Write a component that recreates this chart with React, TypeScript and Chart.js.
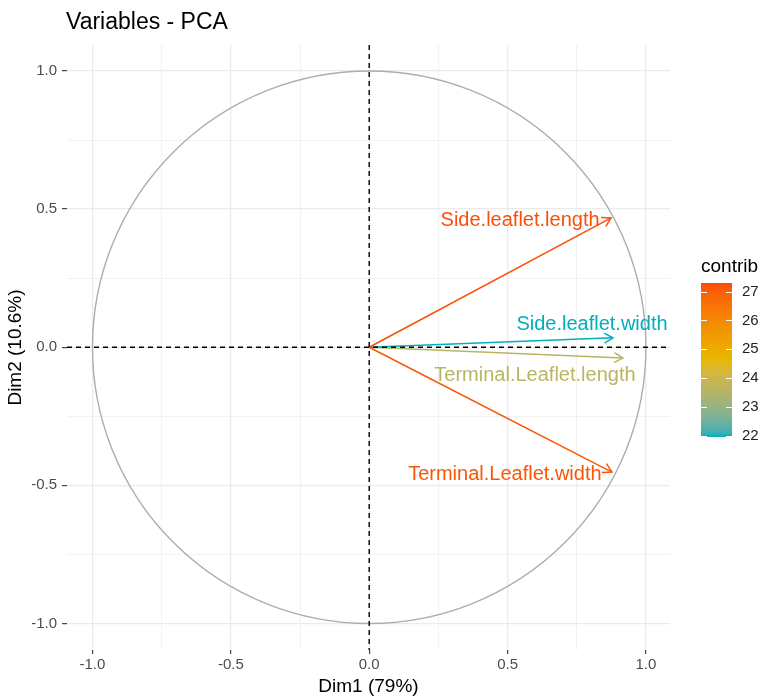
import React, { useEffect, useRef } from "react";
import { Chart, registerables } from "chart.js";
Chart.register(...registerables);

// ---------- data ----------
const variables = [
  "Side.leaflet.length",
  "Side.leaflet.width",
  "Terminal.Leaflet.length",
  "Terminal.Leaflet.width",
];
const dim1 = [0.874, 0.881, 0.917, 0.877];
const dim2 = [0.468, 0.034, -0.039, -0.452];
const contrib = [27.3, 21.95, 23.6, 27.15];
const majorTicks = [-1, -0.5, 0, 0.5, 1];
const minorTicks = [-0.75, -0.25, 0.25, 0.75];
const legendTicks = [22, 23, 24, 25, 26, 27];
const gradientColors = ["#00AFBB", "#E7B800", "#FC4E07"];
const titleText = "Variables - PCA";
const xTitle = "Dim1 (79%)";
const yTitle = "Dim2 (10.6%)";
const legendTitle = "contrib";

// ---------- styling / layout ----------
const FONT = "'Liberation Sans', Arial, Helvetica, sans-serif";
const labelNudge = [
  [-91, 8],
  [-21, -8],
  [-88, 23],
  [-107, 8],
];

// ---------- Lab colour interpolation ----------
function hexToRgb(h: string) {
  return [1, 3, 5].map((i) => parseInt(h.slice(i, i + 2), 16));
}
function toLin(c: number) {
  c /= 255;
  return c <= 0.04045 ? c / 12.92 : Math.pow((c + 0.055) / 1.055, 2.4);
}
function fromLin(c: number) {
  const v = c <= 0.0031308 ? 12.92 * c : 1.055 * Math.pow(c, 1 / 2.4) - 0.055;
  return Math.round(Math.max(0, Math.min(1, v)) * 255);
}
const Xn = 0.95047, Yn = 1, Zn = 1.08883;
const fL = (t: number) => (t > 0.008856 ? Math.cbrt(t) : 7.787 * t + 16 / 116);
const fLinv = (t: number) => (t > 0.206893 ? t * t * t : (t - 16 / 116) / 7.787);
function rgbToLab(rgb: number[]) {
  const R = toLin(rgb[0]), G = toLin(rgb[1]), B = toLin(rgb[2]);
  const X = 0.4124 * R + 0.3576 * G + 0.1805 * B;
  const Y = 0.2126 * R + 0.7152 * G + 0.0722 * B;
  const Z = 0.0193 * R + 0.1192 * G + 0.9505 * B;
  const fx = fL(X / Xn), fy = fL(Y / Yn), fz = fL(Z / Zn);
  return [116 * fy - 16, 500 * (fx - fy), 200 * (fy - fz)];
}
function labToRgb(lab: number[]) {
  const fy = (lab[0] + 16) / 116, fx = fy + lab[1] / 500, fz = fy - lab[2] / 200;
  const X = Xn * fLinv(fx), Y = Yn * fLinv(fy), Z = Zn * fLinv(fz);
  const R = 3.2406 * X - 1.5372 * Y - 0.4986 * Z;
  const G = -0.9689 * X + 1.8758 * Y + 0.0415 * Z;
  const B = 0.0557 * X - 0.204 * Y + 1.057 * Z;
  return [fromLin(R), fromLin(G), fromLin(B)];
}
const labStops = gradientColors.map((c) => rgbToLab(hexToRgb(c)));
function ramp(t: number) {
  t = Math.max(0, Math.min(1, t));
  const n = labStops.length - 1;
  const seg = Math.min(n - 1, Math.floor(t * n));
  const u = t * n - seg;
  const a = labStops[seg], b = labStops[seg + 1];
  const lab = [0, 1, 2].map((i) => a[i] + (b[i] - a[i]) * u);
  const rgb = labToRgb(lab);
  return `rgb(${rgb[0]},${rgb[1]},${rgb[2]})`;
}
const cMin = Math.min(...contrib);
const cMax = Math.max(...contrib);
const colorFor = (v: number) => ramp((v - cMin) / (cMax - cMin));
const varColors = contrib.map(colorFor);

const allTicks = [...majorTicks, ...minorTicks].sort((a, b) => a - b);
const isMajor = (v: number) => majorTicks.some((t) => Math.abs(t - v) < 1e-9);

function makeScale(min: number, max: number, title: string, isX: boolean) {
  return {
    type: "linear" as const,
    min,
    max,
    afterBuildTicks: (s: any) => {
      s.ticks = allTicks.map((v) => ({ value: v }));
    },
    afterFit: (s: any) => {
      if (isX) s.height = 48;
      else s.width = 67;
    },
    border: { display: false },
    grid: {
      color: "#EBEBEB",
      lineWidth: (ctx: any) => (ctx.tick && isMajor(ctx.tick.value) ? 1.3 : 0.65),
      drawTicks: true,
      tickLength: isX ? 4 : 5,
      tickWidth: 1.1,
      tickColor: (ctx: any) =>
        ctx.tick && isMajor(ctx.tick.value) ? "#333333" : "rgba(0,0,0,0)",
    },
    ticks: {
      autoSkip: false,
      maxRotation: 0,
      padding: isX ? 2 : 5,
      color: "#4D4D4D",
      font: { family: FONT, size: 15 },
      callback: (v: any) => (isMajor(Number(v)) ? Number(v).toFixed(1) : ""),
    },
    title: {
      display: true,
      text: title,
      color: "#000000",
      font: { family: FONT, size: 19 },
      padding: isX ? { top: 0, bottom: 0 } : { top: 4, bottom: 0 },
    },
  };
}

const pcaPlugin = {
  id: "pcaPlugin",
  beforeDatasetsDraw(chart: any) {
    const { ctx, chartArea, scales } = chart;
    const x = scales.x, y = scales.y;
    const cx = x.getPixelForValue(0), cy = y.getPixelForValue(0);
    const rx = x.getPixelForValue(1) - cx;
    const ry = cy - y.getPixelForValue(1);
    ctx.save();
    ctx.beginPath();
    ctx.rect(chartArea.left, chartArea.top, chartArea.width, chartArea.height);
    ctx.clip();
    ctx.strokeStyle = "#ADADAD";
    ctx.lineWidth = 1.4;
    ctx.beginPath();
    ctx.ellipse(cx, cy, rx, ry, 0, 0, Math.PI * 2);
    ctx.stroke();
    ctx.restore();
  },
  afterDatasetsDraw(chart: any) {
    const { ctx, chartArea, scales } = chart;
    const x = scales.x, y = scales.y;
    const ox = x.getPixelForValue(0), oy = y.getPixelForValue(0);
    ctx.save();
    // arrow heads
    variables.forEach((_, i) => {
      const tx = x.getPixelForValue(dim1[i]);
      const ty = y.getPixelForValue(dim2[i]);
      const ang = Math.atan2(ty - oy, tx - ox);
      const L = 10, A = Math.PI / 6;
      ctx.strokeStyle = varColors[i];
      ctx.lineWidth = 1.5;
      ctx.beginPath();
      ctx.moveTo(tx - L * Math.cos(ang - A), ty - L * Math.sin(ang - A));
      ctx.lineTo(tx, ty);
      ctx.lineTo(tx - L * Math.cos(ang + A), ty - L * Math.sin(ang + A));
      ctx.stroke();
    });
    // dashed zero lines
    ctx.strokeStyle = "#000000";
    ctx.lineWidth = 1.4;
    ctx.setLineDash([5, 4]);
    ctx.beginPath();
    ctx.moveTo(chartArea.left, oy);
    ctx.lineTo(chartArea.right, oy);
    ctx.moveTo(ox, chartArea.top);
    ctx.lineTo(ox, chartArea.bottom);
    ctx.stroke();
    ctx.setLineDash([]);
    // labels
    ctx.font = `20px ${FONT}`;
    ctx.textAlign = "center";
    ctx.textBaseline = "alphabetic";
    variables.forEach((name, i) => {
      const tx = x.getPixelForValue(dim1[i]);
      const ty = y.getPixelForValue(dim2[i]);
      ctx.fillStyle = varColors[i];
      ctx.fillText(name, tx + labelNudge[i][0], ty + labelNudge[i][1]);
    });
    ctx.restore();
  },
  afterDraw(chart: any) {
    const { ctx, chartArea } = chart;
    ctx.save();
    // title
    ctx.fillStyle = "#000000";
    ctx.font = `23px ${FONT}`;
    ctx.textAlign = "left";
    ctx.textBaseline = "alphabetic";
    ctx.fillText(titleText, chartArea.left - 1, 29);
    // legend
    const bx = chartArea.right + 31, bw = 31, top = 283, bottom = 437;
    const vy = (v: number) => bottom - ((v - cMin) / (cMax - cMin)) * (bottom - top);
    ctx.font = `19px ${FONT}`;
    ctx.fillText(legendTitle, bx, 272);
    const grad = ctx.createLinearGradient(0, bottom, 0, top);
    for (let k = 0; k <= 40; k++) grad.addColorStop(k / 40, ramp(k / 40));
    ctx.fillStyle = grad;
    ctx.fillRect(bx, top, bw, bottom - top);
    ctx.strokeStyle = "#FFFFFF";
    ctx.lineWidth = 1;
    ctx.font = `15px ${FONT}`;
    ctx.textBaseline = "middle";
    legendTicks.forEach((t) => {
      const py = Math.round(vy(t)) + 0.5;
      ctx.beginPath();
      ctx.moveTo(bx, py);
      ctx.lineTo(bx + 6, py);
      ctx.moveTo(bx + bw - 6, py);
      ctx.lineTo(bx + bw, py);
      ctx.stroke();
      ctx.fillStyle = "#222222";
      ctx.fillText(String(t), bx + bw + 10, vy(t));
    });
    ctx.restore();
  },
};

export default function App() {
  const ref = useRef<HTMLCanvasElement>(null);
  useEffect(() => {
    if (!ref.current) return;
    const datasets = variables.map((name, i) => ({
      label: name,
      data: [
        { x: 0, y: 0 },
        { x: dim1[i], y: dim2[i] },
      ],
      showLine: true,
      borderColor: varColors[i],
      backgroundColor: varColors[i],
      borderWidth: 1.5,
      pointRadius: 0,
      pointHoverRadius: 0,
    }));
    const chart = new Chart(ref.current, {
      type: "scatter",
      data: { datasets },
      options: {
        animation: false,
        responsive: false,
        devicePixelRatio: 1,
        events: [],
        layout: { padding: { top: 45, right: 91, left: 0, bottom: 0 } },
        plugins: {
          legend: { display: false },
          tooltip: { enabled: false },
          title: { display: false },
        },
        scales: {
          x: makeScale(-1.092, 1.087, xTitle, true),
          y: makeScale(-1.096, 1.094, yTitle, false),
        },
      } as any,
      plugins: [pcaPlugin],
    });
    return () => chart.destroy();
  }, []);
  return (
    <div
      style={{
        position: "absolute",
        left: 0,
        top: 0,
        width: 761,
        height: 698,
        background: "#ffffff",
      }}
    >
      <canvas ref={ref} width={761} height={698} style={{ display: "block" }} />
    </div>
  );
}
